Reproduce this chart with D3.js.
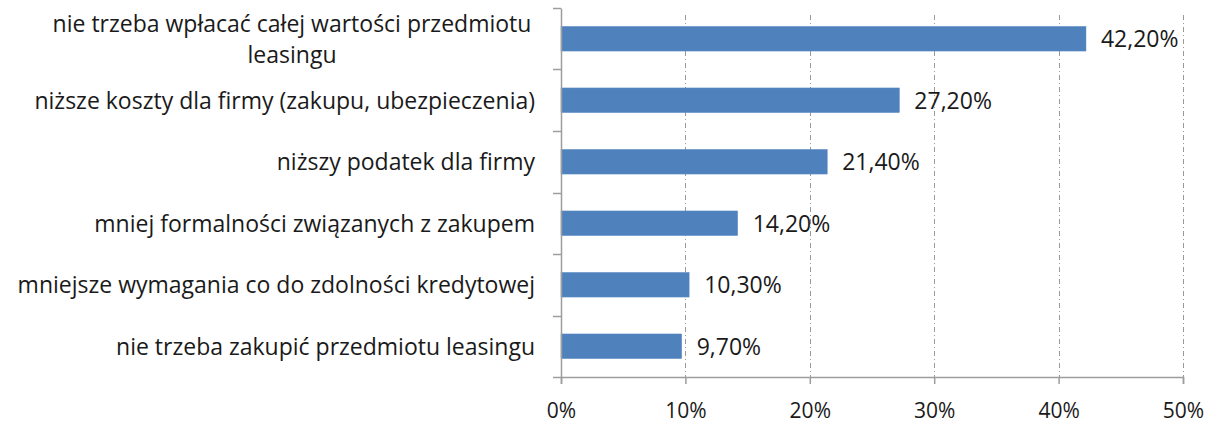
<!DOCTYPE html>
<html>
<head>
<meta charset="utf-8">
<script src="https://cdn.jsdelivr.net/npm/d3@7"></script>
<style>
  body { margin: 0; background: #fff; }
  text { font-family: "Open Sans", sans-serif; fill: #1a1a1a; }
</style>
</head>
<body>
<div id="chart_container"></div>
<script>
var categories = [
    "nie trzeba wpłacać całej wartości przedmiotu|leasingu",
    "niższe koszty dla firmy (zakupu, ubezpieczenia)",
    "niższy podatek dla firmy",
    "mniej formalności związanych z zakupem",
    "mniejsze wymagania co do zdolności kredytowej",
    "nie trzeba zakupić przedmiotu leasingu"
];
var values = [42.2, 27.2, 21.4, 14.2, 10.3, 9.7];
var valueLabels = ["42,20%", "27,20%", "21,40%", "14,20%", "10,30%", "9,70%"];
var xTicks = [0, 10, 20, 30, 40, 50];

function display_chart() {
    var margin = {top: 8, right: 25, bottom: 46, left: 561},
        width = 1208 - margin.left - margin.right,
        height = 423 - margin.top - margin.bottom;

    var x = d3.scaleLinear()
        .domain([0, 50])
        .range([0, width]);
    var y = d3.scaleBand()
        .domain(categories)
        .range([0, height])
        .paddingInner(0.6)
        .paddingOuter(0.3);

    var svg = d3.select("#chart_container").append("svg")
        .attr("width", 1208)
        .attr("height", 423)
        .append("g")
        .attr("transform", "translate(" + margin.left + "," + margin.top + ")");

    // gridlines
    svg.selectAll(".grid")
        .data(xTicks.slice(1))
        .enter().append("line")
        .attr("x1", function (d) { return Math.round(x(d)) + 0.5; })
        .attr("x2", function (d) { return Math.round(x(d)) + 0.5; })
        .attr("y1", 7)
        .attr("y2", height)
        .attr("stroke", "#9a9a9a")
        .attr("stroke-dasharray", "5,3,1,3");

    svg.selectAll(".bar")
        .data(values)
        .enter().append("rect")
        .attr("x", 0)
        .attr("y", function (d, i) { return y(categories[i]); })
        .attr("width", function (d) { return x(d); })
        .attr("height", y.bandwidth())
        .attr("fill", "#4f81bd")
        .attr("stroke", "#5b8ac4")
        .attr("stroke-width", 0.5);

    svg.selectAll(".val")
        .data(values)
        .enter().append("text")
        .attr("x", function (d) { return x(d) + 15; })
        .attr("y", function (d, i) { return y(categories[i]) + y.bandwidth() / 2; })
        .attr("dy", "0.36em")
        .style("font-size", "23px")
        .text(function (d, i) { return valueLabels[i]; });

    // x axis
    var xAxis = svg.append("g")
        .attr("transform", "translate(0," + height + ")")
        .call(d3.axisBottom(x).tickValues(xTicks).tickSize(7).tickPadding(19)
            .tickFormat(function (d) { return d + "%"; }));
    xAxis.selectAll("text").style("font-size", "21px");

    // y axis
    var yAxis = svg.append("g")
        .call(d3.axisLeft(y).tickSize(0).tickFormat(""));
    var step = y.step();
    yAxis.selectAll(".yt")
        .data(d3.range(categories.length + 1))
        .enter().append("line")
        .attr("class", "yt")
        .attr("x1", -8).attr("x2", 0)
        .attr("y1", function (i) { return Math.round(y(categories[0]) - step * 0.3 + step * i) + 0.5; })
        .attr("y2", function (i) { return Math.round(y(categories[0]) - step * 0.3 + step * i) + 0.5; });

    svg.selectAll(".domain, .tick line, .yt")
        .attr("stroke", "#9d9d9d")
        .attr("stroke-width", 1.5);

    // category labels
    svg.selectAll(".cat")
        .data(categories)
        .enter().append("g")
        .each(function (d) {
            var lines = d.split("|");
            var g = d3.select(this);
            var cy = y(d) + y.bandwidth() / 2;
            if (lines.length === 1) {
                g.append("text")
                    .attr("x", -26)
                    .attr("y", cy)
                    .attr("dy", "0.36em")
                    .attr("text-anchor", "end")
                    .style("font-size", "23px")
                    .text(d);
            } else {
                lines.forEach(function (l, k) {
                    g.append("text")
                        .attr("x", -269)
                        .attr("y", cy - 15 + k * 31)
                        .attr("dy", "0.36em")
                        .attr("text-anchor", "middle")
                        .style("font-size", "23px")
                        .text(l);
                });
            }
        });
}

display_chart();
</script>
</body>
</html>
